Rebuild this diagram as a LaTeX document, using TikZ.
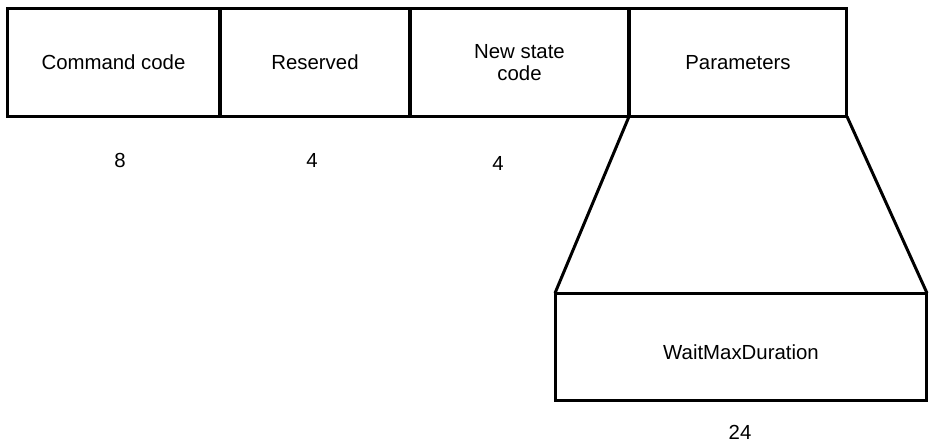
\documentclass[tikz,border=0pt]{standalone}
\usepackage{fontspec}
\setmainfont{Liberation Sans}
\usetikzlibrary{positioning}

\tikzset{
  field/.style={draw, line width=1.7pt, inner sep=0pt, outer sep=0pt,
    minimum height=2.16cm, align=center, font=\fontsize{11.6}{12.6}\selectfont},
  bits/.style={font=\fontsize{11.6}{12.6}\selectfont}
}

\begin{document}
\begin{tikzpicture}[x=0.02cm,y=-0.02cm,line join=miter]
    \useasboundingbox (0,0) rectangle (929,442);

    \node [field, minimum width=4.26cm] (cmdNode) at (113.5,62.5) {Command code};
    \node [field, minimum width=3.80cm] (resNode) at (315,62.5) {Reserved};
    \node [field, minimum width=4.38cm] (stateNode) at (519.5,62.5) {New state\\code};
    \node [field, minimum width=4.36cm] (paramNode) at (738,62.5) {Parameters};

    \node [bits] (cmdBits) at (120,160) {8};
    \node [bits] (resBits) at (312,160) {4};
    \node [bits] (stateBits) at (498,163) {4};

    \node [field, minimum width=7.44cm] (waitNode) at (741,347) {\raisebox{-0.26cm}[0pt][0pt]{WaitMaxDuration}};
    \node [bits] (waitBits) at (740,432) {24};

    \draw[line width=1.7pt] (paramNode.south west) -- (waitNode.north west);
    \draw[line width=1.7pt] (paramNode.south east) -- (waitNode.north east);
\end{tikzpicture}
\end{document}
